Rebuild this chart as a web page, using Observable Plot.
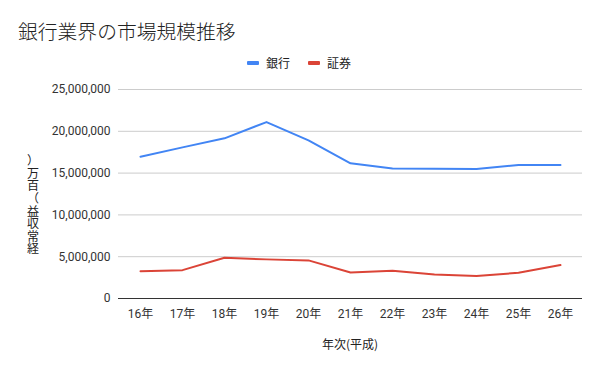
<!DOCTYPE html>
<html><head><meta charset="utf-8">
<script src="https://cdn.jsdelivr.net/npm/d3@7"></script>
<script src="https://cdn.jsdelivr.net/npm/@observablehq/plot@0.6"></script>
<style>
body{margin:0;background:#fff;font-family:Roboto,"Noto Sans CJK JP",sans-serif;}
#wrap{position:relative;width:600px;height:371px;overflow:hidden;}
#title{position:absolute;left:18px;top:16px;font-size:19.8px;color:#222;font-family:"Noto Sans CJK JP",sans-serif;font-weight:300;white-space:nowrap;}
#legend{position:absolute;top:54px;left:247px;font-size:12px;color:#222;display:flex;gap:0;font-family:"Noto Sans CJK JP",sans-serif;}
.li{display:flex;align-items:center;margin-right:18px;}
.sw{width:12px;height:4px;border-radius:1px;margin-right:7px;}
#xlab{position:absolute;left:0;width:700px;top:335px;text-align:center;font-size:12px;color:#222;font-family:"Noto Sans CJK JP",sans-serif;}
svg{position:absolute;left:0;top:0;}
</style></head>
<body><div id="wrap"></div>
<script>
const title = "銀行業界の市場規模推移";
const years = ["16年","17年","18年","19年","20年","21年","22年","23年","24年","25年","26年"];
const seriesNames = ["銀行","証券"];
const seriesColors = ["#4285f4","#db4437"];
const bank = [16950000,18080000,19160000,21100000,18920000,16170000,15550000,15520000,15500000,15960000,15980000];
const securities = [3270000,3390000,4880000,4680000,4560000,3110000,3320000,2880000,2680000,3080000,4000000];
const yTicks = [0,5000000,10000000,15000000,20000000,25000000];
const yTitle = "経常収益（百万）";
const xTitle = "年次(平成)";

const data = [];
years.forEach((y,i)=>{
  data.push({year:y, value:bank[i], series:seriesNames[0]});
  data.push({year:y, value:securities[i], series:seriesNames[1]});
});

const wrap = document.getElementById("wrap");
const chart = Plot.plot({
  width:600, height:371,
  marginTop:89, marginBottom:73, marginLeft:118, marginRight:18,
  style:{fontFamily:"Roboto,'Noto Sans CJK JP',sans-serif", fontSize:"12px", color:"#444", background:"transparent"},
  x:{type:"point", domain:years, padding:0.5, label:null, tickSize:0, tickPadding:11},
  y:{domain:[0,25000000], ticks:yTicks, tickFormat:d3.format(","), label:null, tickSize:0, tickPadding:8},
  color:{domain:seriesNames, range:seriesColors},
  marks:[
    Plot.gridY(yTicks.filter(d=>d>0), {stroke:"#cccccc", strokeOpacity:1, strokeWidth:1}),
    Plot.ruleY([0], {stroke:"#333", strokeWidth:1}),
    Plot.line(data, {x:"year", y:"value", z:"series", stroke:"series", strokeWidth:2, curve:"linear"})
  ]
});
wrap.appendChild(chart);
chart.querySelectorAll('[aria-label="x-axis tick label"] text, [aria-label="y-axis tick label"] text').forEach(t=>t.setAttribute("fill","#333"));

// y-axis title: rotated line with each glyph kept upright (reads bottom to top)
d3.select(chart).append("text")
  .attr("transform","translate(33,203) rotate(-90)")
  .attr("text-anchor","middle")
  .attr("rotate","90")
  .attr("dy","-6")
  .attr("fill","#222")
  .style("font-family","'Noto Sans CJK JP',sans-serif")
  .style("font-size","12px")
  .style("letter-spacing","0.5px")
  .text(yTitle);

const t = document.createElement("div"); t.id="title"; t.textContent=title; wrap.appendChild(t);
const lg = document.createElement("div"); lg.id="legend";
seriesNames.forEach((n,i)=>{
  const li=document.createElement("div"); li.className="li";
  const sw=document.createElement("div"); sw.className="sw"; sw.style.background=seriesColors[i];
  const tx=document.createElement("span"); tx.textContent=n;
  li.appendChild(sw); li.appendChild(tx); lg.appendChild(li);
});
wrap.appendChild(lg);
const xl=document.createElement("div"); xl.id="xlab"; xl.textContent=xTitle; wrap.appendChild(xl);
</script></body></html>
